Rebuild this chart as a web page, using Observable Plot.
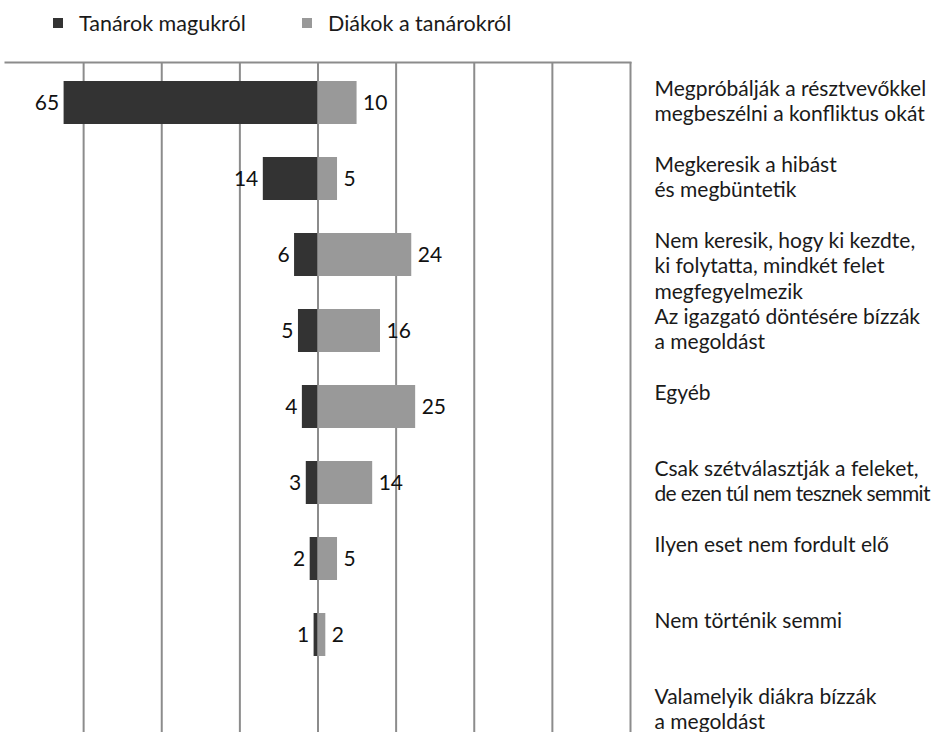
<!DOCTYPE html>
<html>
<head>
<meta charset="utf-8">
<script src="https://cdn.jsdelivr.net/npm/d3@7"></script>
<script src="https://cdn.jsdelivr.net/npm/@observablehq/plot@0.6"></script>
<style>
  html, body { margin: 0; padding: 0; background: #fff; overflow: hidden; }
  body { width: 932px; height: 732px; font-family: Lato, "Open Sans", sans-serif; }
  #legend { height: 40px; display: flex; align-items: center; padding-left: 53px; box-sizing: border-box; padding-top: 6px; font-size: 21.5px; color: #1a1a1a; }
  #legend .item { display: flex; align-items: center; }
  #legend .sw { width: 10px; height: 10px; margin-right: 16px; }
  svg { display: block; }
</style>
</head>
<body>
<div id="legend"></div>
<div id="chart"></div>
<script>
const categories = [
  "Megpróbálják a résztvevőkkel\nmegbeszélni a konfliktus okát",
  "Megkeresik a hibást\nés megbüntetik",
  "Nem keresik, hogy ki kezdte,\nki folytatta, mindkét felet\nmegfegyelmezik",
  "Az igazgató döntésére bízzák\na megoldást",
  "Egyéb",
  "Csak szétválasztják a feleket,\nde ezen túl nem tesznek semmit",
  "Ilyen eset nem fordult elő",
  "Nem történik semmi",
  "Valamelyik diákra bízzák\na megoldást"
];
const seriesNames = ["Tanárok magukról", "Diákok a tanárokról"];
const teachers = [65, 14, 6, 5, 4, 3, 2, 1, null];
const students = [10, 5, 24, 16, 25, 14, 5, 2, null];
const gridTicks = [-60, -40, -20, 0, 20, 40, 60, 80];

const colors = ["#333333", "#999999"];

const data = categories.map((c, i) => ({cat: c, t: teachers[i], s: students[i]}));

// Legend
const legend = document.getElementById("legend");
seriesNames.forEach((name, i) => {
  const item = document.createElement("div");
  item.className = "item";
  if (i === 0) item.style.width = "249px";
  const sw = document.createElement("span");
  sw.className = "sw";
  sw.style.background = colors[i];
  const tx = document.createElement("span");
  tx.textContent = name;
  item.appendChild(sw);
  item.appendChild(tx);
  legend.appendChild(item);
});

const chart = Plot.plot({
  width: 932,
  height: 710,
  marginTop: 22,
  marginBottom: 0,
  marginLeft: 5,
  marginRight: 302,
  style: {fontFamily: "Lato, 'Open Sans', sans-serif", fontSize: "21px", color: "#1a1a1a", background: "#fff"},
  x: {domain: [-80, 80], axis: null},
  y: {domain: categories, paddingInner: 0.437, paddingOuter: 0.2185, axis: null},
  marks: [
    Plot.ruleX(gridTicks, {stroke: "#8c8c8c", strokeWidth: 2}),
    Plot.frame({anchor: "top", stroke: "#8c8c8c", strokeWidth: 2}),
    Plot.barX(data.filter(d => d.t != null), {x1: 0, x2: d => -d.t, y: "cat", fill: colors[0]}),
    Plot.barX(data.filter(d => d.s != null), {x1: 0, x2: "s", y: "cat", fill: colors[1]}),
    Plot.text(data.filter(d => d.t != null), {x: d => -d.t, y: "cat", text: d => String(d.t), textAnchor: "end", dx: -5, fontSize: 21, fill: "#111"}),
    Plot.text(data.filter(d => d.s != null), {x: "s", y: "cat", text: d => String(d.s), textAnchor: "start", dx: 6, fontSize: 21, fill: "#111"}),
    Plot.axisY({anchor: "right", tickSize: 0, tickPadding: 24, textAnchor: "start", fontSize: 21, lineAnchor: "top", dy: -25, lineHeight: 1.21, label: null, fill: "#1a1a1a"})
  ]
});
document.getElementById("chart").appendChild(chart);

// tighten any label line that would run past the right edge (as in the reference)
const maxW = 932 - 654 - 2;
chart.querySelectorAll("g[aria-label='y-axis tick label'] tspan, g[aria-label='y-axis tick label'] text").forEach(el => {
  if (el.querySelector && el.querySelector("tspan")) return;
  const w = el.getComputedTextLength();
  const n = el.textContent.length;
  if (w > maxW && n > 1) el.setAttribute("letter-spacing", ((maxW - w) / (n - 1)).toFixed(2) + "px");
});
</script>
</body>
</html>
